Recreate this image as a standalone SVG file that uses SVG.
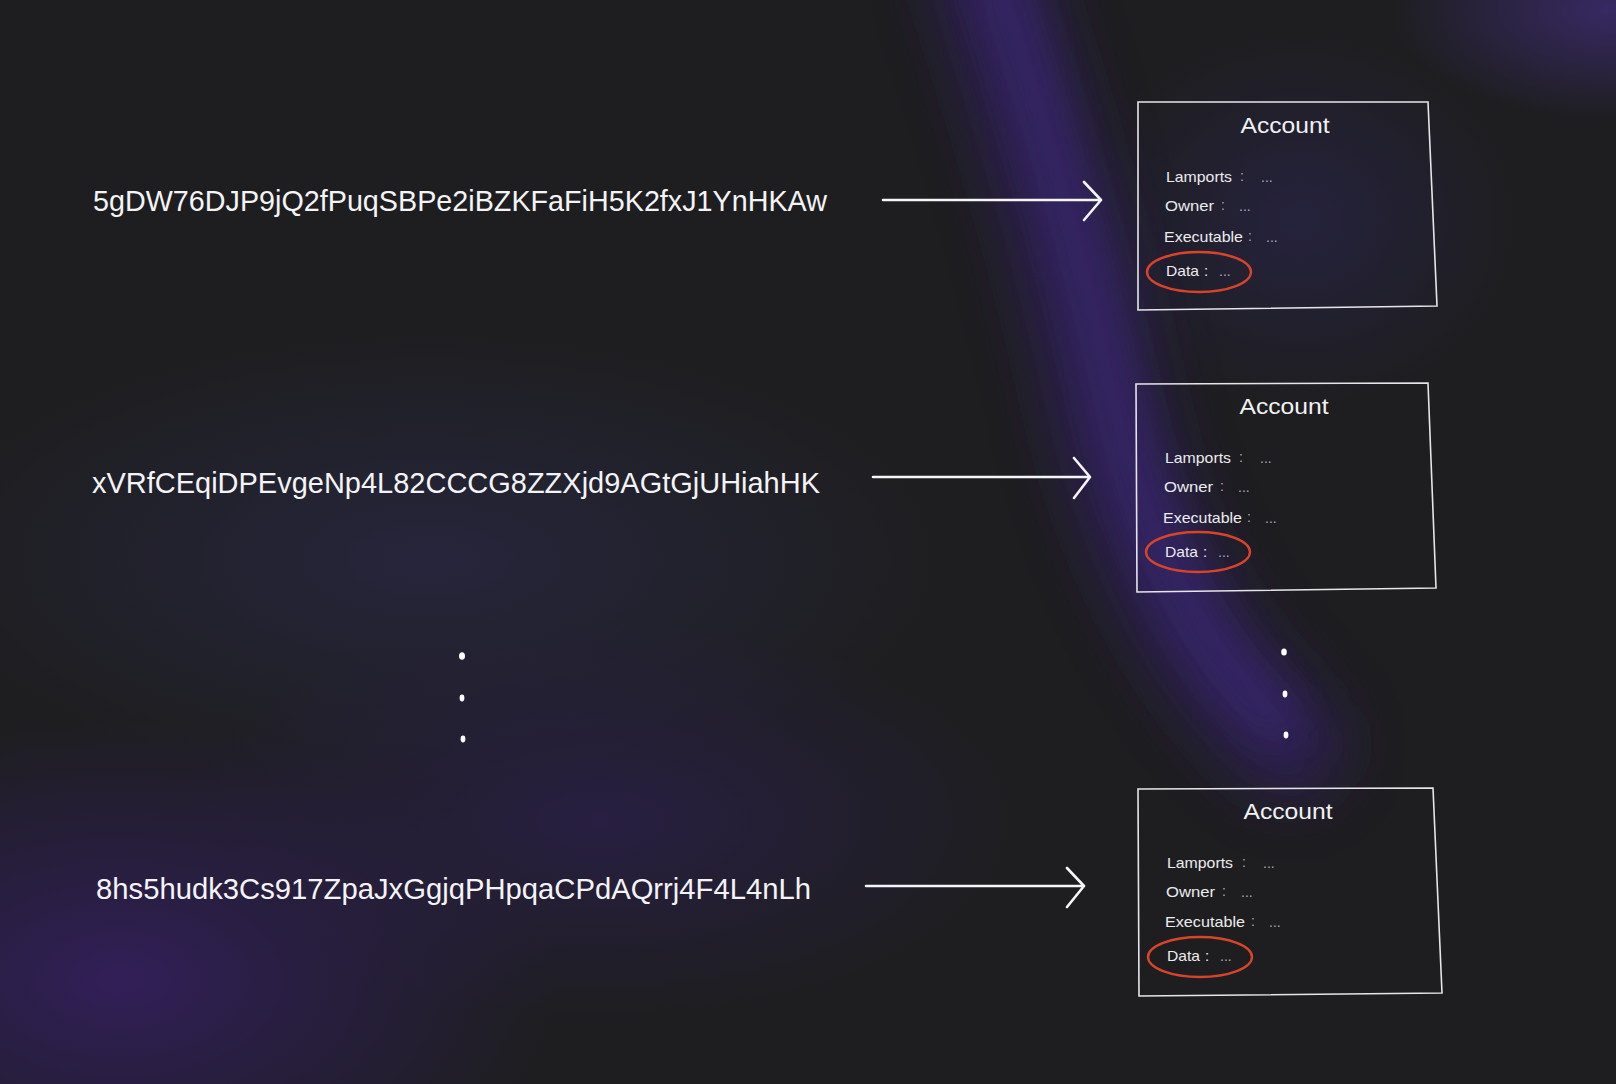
<svg xmlns="http://www.w3.org/2000/svg" width="1616" height="1084" viewBox="0 0 1616 1084">
<style>
.addr{font-family:"Liberation Sans",Arial,sans-serif;font-size:29px;fill:#f4f4f6;}
.title{font-family:"Liberation Sans",Arial,sans-serif;font-size:22px;fill:#f2f2f4;}
.field{font-family:"Liberation Sans",Arial,sans-serif;font-size:15px;fill:#ececee;}
.dim{font-family:"Liberation Sans",Arial,sans-serif;font-size:14px;fill:#a8a8b0;}
.box{fill:none;stroke:#e6e6ea;stroke-width:1.6;}
.ring{fill:none;stroke:#d8432c;stroke-width:2.4;}
.conn{fill:none;stroke:#f6f6f8;stroke-width:2.6;stroke-linecap:round;stroke-linejoin:round;}
.dot{fill:#ffffff;}
</style>
<defs>
<filter id="b40" x="-50%" y="-50%" width="200%" height="200%"><feGaussianBlur stdDeviation="32"/></filter>
<filter id="b20" x="-50%" y="-50%" width="200%" height="200%"><feGaussianBlur stdDeviation="20"/></filter>
<radialGradient id="gNavy"><stop offset="0" stop-color="#27263f" stop-opacity="0.9"/><stop offset="1" stop-color="#27263f" stop-opacity="0"/></radialGradient>
<radialGradient id="gPurple"><stop offset="0" stop-color="#331f5c" stop-opacity="0.95"/><stop offset="0.6" stop-color="#2c1e4e" stop-opacity="0.5"/><stop offset="1" stop-color="#2c1e4e" stop-opacity="0"/></radialGradient>
<radialGradient id="gPurple2"><stop offset="0" stop-color="#2a1f4a" stop-opacity="0.8"/><stop offset="1" stop-color="#2a1f4a" stop-opacity="0"/></radialGradient>
<radialGradient id="gCorner"><stop offset="0" stop-color="#3a2a6a" stop-opacity="0.9"/><stop offset="1" stop-color="#3a2a6a" stop-opacity="0"/></radialGradient>
<radialGradient id="gBox"><stop offset="0" stop-color="#2a2550" stop-opacity="0.6"/><stop offset="1" stop-color="#2a2550" stop-opacity="0"/></radialGradient>
</defs>
<g id="background">
<rect x="0" y="0" width="1616" height="1084" fill="#1e1e20"/>
<ellipse cx="430" cy="560" rx="520" ry="230" fill="url(#gNavy)"/>
<ellipse cx="120" cy="980" rx="440" ry="260" fill="url(#gPurple)"/>
<ellipse cx="600" cy="820" rx="420" ry="200" fill="url(#gPurple2)"/>
<ellipse cx="1610" cy="10" rx="220" ry="110" fill="url(#gCorner)"/>
<ellipse cx="1300" cy="220" rx="220" ry="190" fill="url(#gBox)"/>
<path d="M985 -30 C1035 120 1075 260 1105 400 C1135 540 1195 660 1290 745" fill="none" stroke="#34226a" stroke-width="100" stroke-linecap="round" opacity="0.75" filter="url(#b40)"/>
<path d="M1000 -20 C1050 130 1090 270 1120 410 C1150 540 1200 650 1275 715" fill="none" stroke="#412a80" stroke-width="40" stroke-linecap="round" opacity="0.45" filter="url(#b20)"/>
</g>
<g id="addr1"><text class="addr" x="93" y="211" textLength="734" lengthAdjust="spacingAndGlyphs">5gDW76DJP9jQ2fPuqSBPe2iBZKFaFiH5K2fxJ1YnHKAw</text></g>
<g id="addr2"><text class="addr" x="92" y="493" textLength="728" lengthAdjust="spacingAndGlyphs">xVRfCEqiDPEvgeNp4L82CCCG8ZZXjd9AGtGjUHiahHK</text></g>
<g id="addr3"><text class="addr" x="96" y="899" textLength="715" lengthAdjust="spacingAndGlyphs">8hs5hudk3Cs917ZpaJxGgjqPHpqaCPdAQrrj4F4L4nLh</text></g>
<g id="connectors">
<path class="conn" d="M883 200 L1100 200 M1084 182 L1101 200 L1084 220"/>
<path class="conn" d="M873 477 L1089 477 M1074 458 L1090 477 L1074 498"/>
<path class="conn" d="M866 886 L1083 886 M1067 868 L1084 886 L1067 907"/>
</g>
<g id="account1">
<path class="box" d="M1138 102 L1428 102 L1437 306 L1138 310 Z"/>
<text class="title" x="1285" y="133" text-anchor="middle" textLength="89" lengthAdjust="spacingAndGlyphs">Account</text>
<text class="field" x="1166" y="182" textLength="66" lengthAdjust="spacingAndGlyphs">Lamports</text><text class="dim" x="1240" y="181">:</text><text class="dim" x="1261" y="182">...</text>
<text class="field" x="1165" y="211" textLength="49" lengthAdjust="spacingAndGlyphs">Owner</text><text class="dim" x="1221" y="210">:</text><text class="dim" x="1239" y="211">...</text>
<text class="field" x="1164" y="242" textLength="79" lengthAdjust="spacingAndGlyphs">Executable</text><text class="dim" x="1248" y="241">:</text><text class="dim" x="1266" y="242">...</text>
<text class="field" x="1166" y="276" textLength="33" lengthAdjust="spacingAndGlyphs">Data</text><text class="field" x="1204" y="276">:</text><text class="dim" x="1219" y="276">...</text>
<ellipse class="ring" cx="1199" cy="272" rx="52" ry="20"/>
</g>
<g id="account2">
<path class="box" d="M1136 384 L1428 383 L1436 588 L1137 592 Z"/>
<text class="title" x="1284" y="414" text-anchor="middle" textLength="89" lengthAdjust="spacingAndGlyphs">Account</text>
<text class="field" x="1165" y="463" textLength="66" lengthAdjust="spacingAndGlyphs">Lamports</text><text class="dim" x="1239" y="462">:</text><text class="dim" x="1260" y="463">...</text>
<text class="field" x="1164" y="492" textLength="49" lengthAdjust="spacingAndGlyphs">Owner</text><text class="dim" x="1220" y="491">:</text><text class="dim" x="1238" y="492">...</text>
<text class="field" x="1163" y="523" textLength="79" lengthAdjust="spacingAndGlyphs">Executable</text><text class="dim" x="1247" y="522">:</text><text class="dim" x="1265" y="523">...</text>
<text class="field" x="1165" y="557" textLength="33" lengthAdjust="spacingAndGlyphs">Data</text><text class="field" x="1203" y="557">:</text><text class="dim" x="1218" y="557">...</text>
<ellipse class="ring" cx="1198" cy="552" rx="52" ry="20"/>
</g>
<g id="account3">
<path class="box" d="M1138 789 L1433 788 L1442 993 L1139 996 Z"/>
<text class="title" x="1288" y="819" text-anchor="middle" textLength="89" lengthAdjust="spacingAndGlyphs">Account</text>
<text class="field" x="1167" y="868" textLength="66" lengthAdjust="spacingAndGlyphs">Lamports</text><text class="dim" x="1242" y="867">:</text><text class="dim" x="1263" y="868">...</text>
<text class="field" x="1166" y="897" textLength="49" lengthAdjust="spacingAndGlyphs">Owner</text><text class="dim" x="1222" y="896">:</text><text class="dim" x="1241" y="897">...</text>
<text class="field" x="1165" y="927" textLength="80" lengthAdjust="spacingAndGlyphs">Executable</text><text class="dim" x="1251" y="926">:</text><text class="dim" x="1269" y="927">...</text>
<text class="field" x="1167" y="961" textLength="33" lengthAdjust="spacingAndGlyphs">Data</text><text class="field" x="1205" y="961">:</text><text class="dim" x="1220" y="961">...</text>
<ellipse class="ring" cx="1200" cy="957" rx="52" ry="20"/>
</g>
<g id="ellipsis-left">
<ellipse class="dot" cx="462" cy="656" rx="3" ry="3.8"/>
<ellipse class="dot" cx="462" cy="698" rx="2.4" ry="3.4"/>
<ellipse class="dot" cx="463" cy="739" rx="2.4" ry="3.4"/>
</g>
<g id="ellipsis-right">
<ellipse class="dot" cx="1284" cy="652" rx="2.8" ry="3.6"/>
<ellipse class="dot" cx="1285" cy="694" rx="2.4" ry="3.4"/>
<ellipse class="dot" cx="1286" cy="735" rx="2.4" ry="3.4"/>
</g>
</svg>
